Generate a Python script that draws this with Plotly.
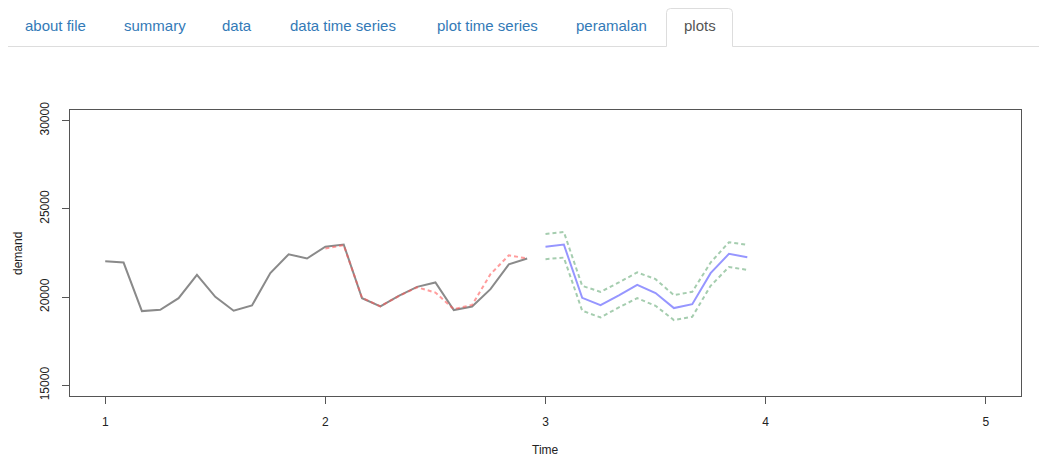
import plotly.graph_objects as go

# ---- data (monthly series, frequency 12) ----
start_actual = 1.0
actual = [22030, 21960, 19210, 19280, 19940, 21260, 20020, 19230, 19530, 21360, 22430, 22190,
          22860, 22980, 19940, 19470, 20070, 20580, 20830, 19270, 19470, 20450, 21860, 22190]
start_fitted = 2.0
fitted = [22750, 22940, 19960, 19480, 20060, 20560, 20260, 19320, 19560, 21300, 22370, 22190]
start_fc = 3.0
forecast = [22860, 22980, 19960, 19550, 20100, 20700, 20230, 19380, 19600, 21360, 22450, 22260]
upper = [23580, 23690, 20640, 20300, 20830, 21400, 21020, 20110, 20300, 21960, 23110, 22960]
lower = [22150, 22240, 19230, 18850, 19420, 19940, 19510, 18700, 18890, 20640, 21710, 21540]

x_ticks = [1, 2, 3, 4, 5]
y_ticks = [15000, 20000, 25000, 30000]
tabs = ["about file", "summary", "data", "data time series", "plot time series", "peramalan", "plots"]
tab_centers = [55, 155, 237, 343, 487, 611, 700]
active_tab = "plots"


def times(start, n):
    return [start + i / 12 for i in range(n)]


OFF = 8  # page body margin
W, H = 1047 - OFF, 459 - OFF
L, R, T, B = 70 - OFF, 1021 - OFF, 110 - OFF, 396 - OFF


def px(xp):
    return (xp - OFF - L) / (R - L)


def py(yp):
    return (B - (yp - OFF)) / (B - T)


fig = go.Figure()
fig.add_trace(go.Scatter(x=times(start_actual, len(actual)), y=actual, mode="lines",
                         line=dict(color="rgb(138,138,138)", width=2), hoverinfo="skip"))
fig.add_trace(go.Scatter(x=times(start_fitted, len(fitted)), y=fitted, mode="lines",
                         line=dict(color="rgba(255,90,90,0.6)", width=2, dash="4px,3px"), hoverinfo="skip"))
fig.add_trace(go.Scatter(x=times(start_fc, len(forecast)), y=forecast, mode="lines",
                         line=dict(color="rgb(150,150,255)", width=2), hoverinfo="skip"))
fig.add_trace(go.Scatter(x=times(start_fc, len(upper)), y=upper, mode="lines",
                         line=dict(color="rgb(165,205,175)", width=2, dash="4px,3px"), hoverinfo="skip"))
fig.add_trace(go.Scatter(x=times(start_fc, len(lower)), y=lower, mode="lines",
                         line=dict(color="rgb(165,205,175)", width=2, dash="4px,3px"), hoverinfo="skip"))

shapes = []
# tab baseline
shapes.append(dict(type="line", xref="paper", yref="paper", x0=px(8), x1=px(666.5), y0=py(46.5), y1=py(46.5),
                   line=dict(color="#dddddd", width=1)))
shapes.append(dict(type="line", xref="paper", yref="paper", x0=px(732.5), x1=px(1047), y0=py(46.5), y1=py(46.5),
                   line=dict(color="#dddddd", width=1)))
# active tab outline
x0, x1, y0, yb = px(666.5), px(732.5), py(8.5), py(46.5)
rx, ry = 4 / (R - L), 4 / (B - T)
path = (f"M {x0},{yb} L {x0},{y0 - ry} Q {x0},{y0} {x0 + rx},{y0} "
        f"L {x1 - rx},{y0} Q {x1},{y0} {x1},{y0 - ry} L {x1},{yb}")
shapes.append(dict(type="path", xref="paper", yref="paper", path=path, line=dict(color="#dddddd", width=1)))

annotations = []
for name, cx in zip(tabs, tab_centers):
    annotations.append(dict(text=name, xref="paper", yref="paper", x=px(cx), y=py(26), showarrow=False,
                            xanchor="center", yanchor="middle",
                            font=dict(family="Liberation Sans, Arial", size=15,
                                      color="#555555" if name == active_tab else "#337ab7")))
annotations.append(dict(text="Time", xref="paper", yref="paper", x=px(545), y=py(450), showarrow=False,
                        xanchor="center", yanchor="middle",
                        font=dict(family="Liberation Sans, Arial", size=12, color="#222")))
annotations.append(dict(text="demand", xref="paper", yref="paper", x=px(18), y=py(254), showarrow=False,
                        textangle=-90, xanchor="center", yanchor="middle",
                        font=dict(family="Liberation Sans, Arial", size=12, color="#222")))

fig.update_layout(
    width=W, height=H,
    margin=dict(l=L, r=W - R, t=T, b=H - B),
    paper_bgcolor="white", plot_bgcolor="white",
    showlegend=False,
    shapes=shapes, annotations=annotations,
    font=dict(family="Liberation Sans, Arial", size=12, color="#222"),
    xaxis=dict(range=[0.84, 5.16], tickvals=x_ticks, ticktext=[str(v) for v in x_ticks],
               showgrid=False, zeroline=False, showline=True, mirror=True, linecolor="#555", linewidth=1,
               ticks="outside", ticklen=7, tickcolor="#555", ticklabelstandoff=8,
               tickfont=dict(size=12, color="#222")),
    yaxis=dict(range=[14400, 30600], tickvals=y_ticks, ticktext=[str(v) for v in y_ticks],
               showgrid=False, zeroline=False, showline=True, mirror=True, linecolor="#555", linewidth=1,
               ticks="outside", ticklen=7, tickcolor="#555", tickangle=-90, ticklabelstandoff=8,
               tickfont=dict(size=12, color="#222")),
)

fig.write_html("out.html")
